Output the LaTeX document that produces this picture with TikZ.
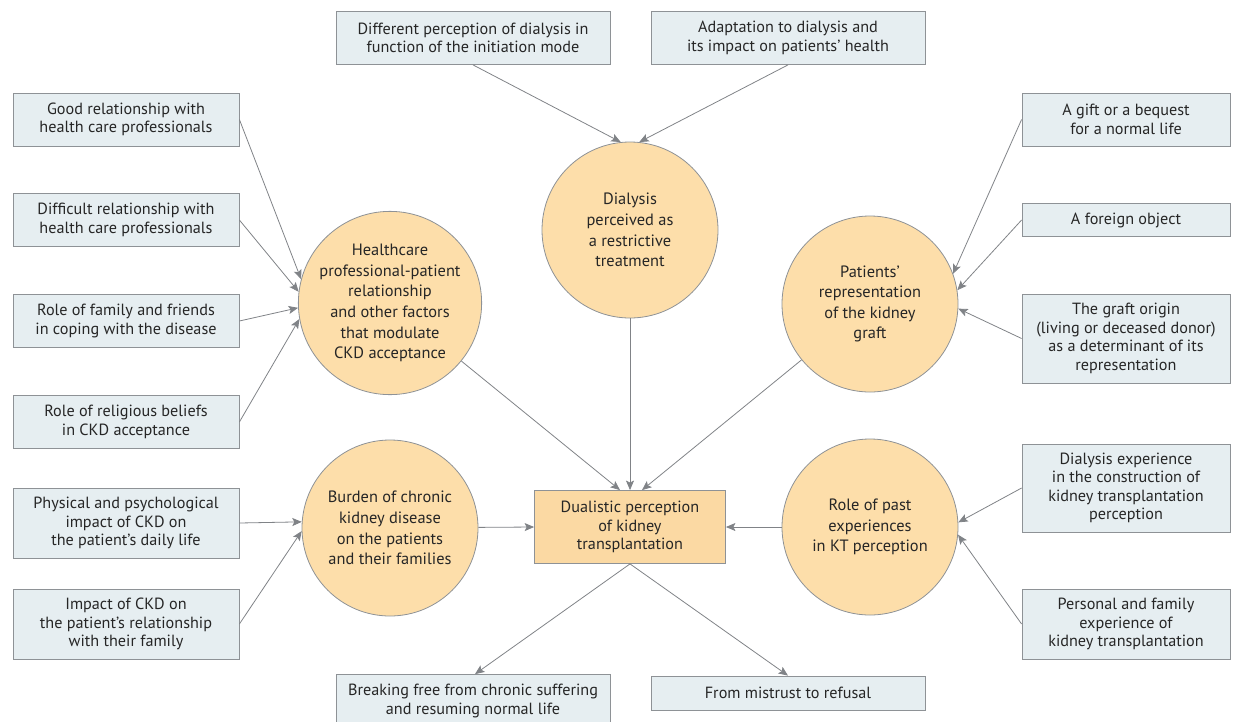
\documentclass[tikz,border=0pt]{standalone}
\usepackage{fontspec}
\setmainfont{PT Sans}
\usetikzlibrary{arrows.meta}
\definecolor{Ink}{HTML}{262626}
\definecolor{Wire}{HTML}{808387}
\definecolor{Frame}{HTML}{8E9296}
\definecolor{LeafFill}{HTML}{E6EEF1}
\definecolor{ThemeFill}{HTML}{FDDEAA}
\definecolor{CoreFill}{HTML}{FBD9A3}
\tikzset{
  every node/.style={text=Ink},
  leaf/.style={draw=Frame, fill=LeafFill, line width=0.8pt, align=center,
    inner sep=2pt, font=\fontsize{16.2}{18.5}\selectfont},
  theme/.style={circle, draw=Frame, fill=ThemeFill, line width=0.8pt,
    minimum size=176pt, inner sep=0pt, align=center,
    font=\fontsize{16.4}{20.6}\selectfont},
  core/.style={draw=Frame, fill=CoreFill, line width=0.8pt, align=center,
    minimum width=191pt, minimum height=73pt, inner sep=2pt,
    font=\fontsize{16.2}{18.5}\selectfont},
  link/.style={draw=Wire, line width=0.8pt,
    -{Stealth[length=9.5pt,width=8pt,inset=2pt]}},
}

\begin{document}
\begin{tikzpicture}[x=1pt,y=-1pt]
  \useasboundingbox (0,0) rectangle (1243,721);

  % Themes around the core perception.
  \node[theme] (dia) at (630,230) {Dialysis\\perceived as\\a restrictive\\treatment};
  \node[theme] (hcp) at (390,303) {Healthcare\\professional-patient\\relationship\\and other factors\\that modulate\\CKD acceptance};
  \node[theme] (rep) at (870,304) {Patients’\\representation\\of the kidney\\graft};
  \node[theme] (bur) at (390,528) {Burden of chronic\\kidney disease\\on the patients\\and their families};
  \node[theme] (past) at (870,527) {Role of past\\experiences\\in KT perception};
  \node[core] (dual) at (630,527) {Dualistic perception\\of kidney\\transplantation};

  % Subthemes, top row.
  \node[leaf, minimum width=274pt, minimum height=53pt] (mode) at (473,38)
    {Different perception of dialysis in\\function of the initiation mode};
  \node[leaf, minimum width=274pt, minimum height=53pt] (adapt) at (788,38)
    {Adaptation to dialysis and\\its impact on patients’ health};

  % Subthemes, left column.
  \node[leaf, minimum width=226pt, minimum height=53pt] (good) at (126,119.5)
    {Good relationship with\\health care professionals};
  \node[leaf, minimum width=226pt, minimum height=53pt] (diff) at (126,220)
    {Difficult relationship with\\health care professionals};
  \node[leaf, minimum width=226pt, minimum height=53pt] (fam) at (126,321)
    {Role of family and friends\\in coping with the disease};
  \node[leaf, minimum width=226pt, minimum height=53pt] (relig) at (126,422)
    {Role of religious beliefs\\in CKD acceptance};
  \node[leaf, minimum width=226pt, minimum height=70pt] (phys) at (126,523)
    {Physical and psychological\\impact of CKD on\\the patient’s daily life};
  \node[leaf, minimum width=226pt, minimum height=70pt] (kin) at (126,624)
    {Impact of CKD on\\the patient{\char"27}s relationship\\with their family};

  % Subthemes, right column.
  \node[leaf, minimum width=208pt, minimum height=53pt] (gift) at (1126,119.5)
    {A gift or a bequest\\for a normal life};
  \node[leaf, minimum width=208pt, minimum height=33pt] (alien) at (1126,220)
    {A foreign object};
  \node[leaf, minimum width=208pt, minimum height=89pt] (origin) at (1126,338.5)
    {The graft origin\\(living or deceased donor)\\as a determinant of its\\representation};
  \node[leaf, minimum width=208pt, minimum height=88pt] (dexp) at (1126,488)
    {Dialysis experience\\in the construction of\\kidney transplantation\\perception};
  \node[leaf, minimum width=208pt, minimum height=70pt] (pexp) at (1126,624)
    {Personal and family\\experience of\\kidney transplantation};

  % Subthemes, bottom row.
  \node[leaf, minimum width=274pt, minimum height=53pt] (free) at (473,701)
    {Breaking free from chronic suffering\\and resuming normal life};
  \node[leaf, minimum width=274pt, minimum height=34pt] (refuse) at (788,693)
    {From mistrust to refusal};

  % Connectors.
  \draw[link] (mode.south) -- (dia.96);
  \draw[link] (adapt.south) -- (dia.84);
  \draw[link] (good.east) -- (hcp.165);
  \draw[link] (diff.east) -- (hcp.173);
  \draw[link] (fam.east) -- (hcp.183);
  \draw[link] (relig.east) -- (hcp.190);
  \draw[link] (phys.east) -- (bur.176);
  \draw[link] (kin.east) -- (bur.182);
  \draw[link] (gift.west) -- (rep.20);
  \draw[link] (alien.west) -- (rep.9);
  \draw[link] (origin.west) -- (rep.-3);
  \draw[link] (dexp.west) -- (past.3);
  \draw[link] (pexp.west) -- (past.-5);
  \draw[link] (hcp) -- ([xshift=-10pt]dual.north);
  \draw[link] (dia) -- (dual.north);
  \draw[link] (rep) -- ([xshift=12pt]dual.north);
  \draw[link] (bur) -- (dual.west);
  \draw[link] (past) -- (dual.east);
  \draw[link] (dual.south) -- ([xshift=2pt]free.north);
  \draw[link] (dual.south) -- (refuse.north);
\end{tikzpicture}
\end{document}
